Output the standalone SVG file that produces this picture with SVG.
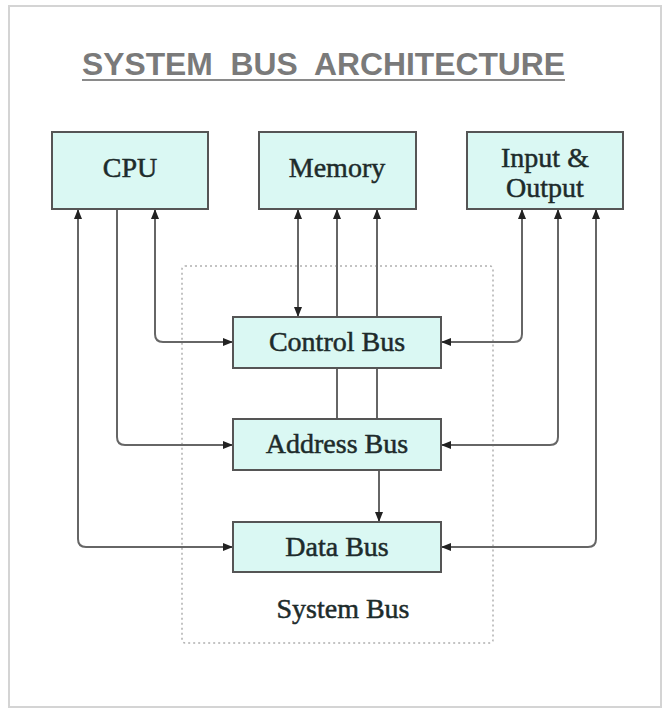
<svg xmlns="http://www.w3.org/2000/svg" width="665" height="709" viewBox="0 0 665 709">
  <defs>
    <marker id="arrow" viewBox="0 0 10 8" refX="10" refY="4" markerWidth="10" markerHeight="8" markerUnits="userSpaceOnUse" orient="auto-start-reverse">
      <path d="M0,0 L10,4 L0,8 z" fill="#222"/>
    </marker>
    <style>
      .frame { fill: #ffffff; stroke: #d4d4d4; stroke-width: 2; }
      .title { font-family: "Liberation Sans", Arial, sans-serif; font-weight: bold; font-size: 32px; fill: #7a7a7a; white-space: pre; }
      .box { fill: #daf8f3; stroke: #555; stroke-width: 2; }
      .lbl { font-family: "Liberation Serif", "Times New Roman", serif; font-size: 28px; fill: #1d2b2b; stroke: #1d2b2b; stroke-width: 0.5; text-anchor: middle; }
      .conn { fill: none; stroke: #666; stroke-width: 2; }
      .both { marker-start: url(#arrow); marker-end: url(#arrow); }
      .end { marker-end: url(#arrow); }
      .sysbus { fill: none; stroke: #b0b0b0; stroke-width: 1.5; stroke-dasharray: 2 3; }
    </style>
  </defs>

  <rect class="frame" x="9" y="6" width="652" height="701"/>

  <g id="title">
    <text class="title" x="82" y="75" textLength="483" lengthAdjust="spacingAndGlyphs" xml:space="preserve">SYSTEM  BUS  ARCHITECTURE</text>
    <line x1="82" y1="80" x2="565" y2="80" stroke="#8a8a8a" stroke-width="2"/>
  </g>

  <g id="system-bus">
    <rect class="sysbus" x="182" y="266" width="311" height="377" rx="3"/>
    <text class="lbl" x="343" y="618">System Bus</text>
  </g>

  <g id="connectors">
    <!-- CPU -->
    <path class="conn both" d="M78,209 V539 Q78,547 86,547 H233"/>
    <path class="conn end" d="M117,209 V437 Q117,445 125,445 H233"/>
    <path class="conn both" d="M155,209 V334 Q155,342 163,342 H233"/>
    <!-- Memory -->
    <path class="conn both" d="M298,209 V317"/>
    <path class="conn end" d="M337,419 V209"/>
    <path class="conn end" d="M377,419 V209"/>
    <!-- Address to Data -->
    <path class="conn end" d="M379,470 V522"/>
    <!-- Input & Output -->
    <path class="conn both" d="M522,209 V334 Q522,342 514,342 H441"/>
    <path class="conn both" d="M558,209 V437 Q558,445 550,445 H441"/>
    <path class="conn both" d="M596,209 V539 Q596,547 588,547 H441"/>
  </g>

  <g id="cpu">
    <rect class="box" x="52" y="132" width="156" height="77"/>
    <text class="lbl" x="130" y="177">CPU</text>
  </g>
  <g id="memory">
    <rect class="box" x="259" y="132" width="157" height="77"/>
    <text class="lbl" x="337" y="177">Memory</text>
  </g>
  <g id="io">
    <rect class="box" x="467" y="132" width="156" height="77"/>
    <text class="lbl" x="545" y="167">Input &amp;</text>
    <text class="lbl" x="545" y="197">Output</text>
  </g>
  <g id="control-bus">
    <rect class="box" x="233" y="317" width="208" height="51"/>
    <text class="lbl" x="337" y="351">Control Bus</text>
  </g>
  <g id="address-bus">
    <rect class="box" x="233" y="419" width="208" height="51"/>
    <text class="lbl" x="337" y="453">Address Bus</text>
  </g>
  <g id="data-bus">
    <rect class="box" x="233" y="522" width="208" height="50"/>
    <text class="lbl" x="337" y="556">Data Bus</text>
  </g>
</svg>
